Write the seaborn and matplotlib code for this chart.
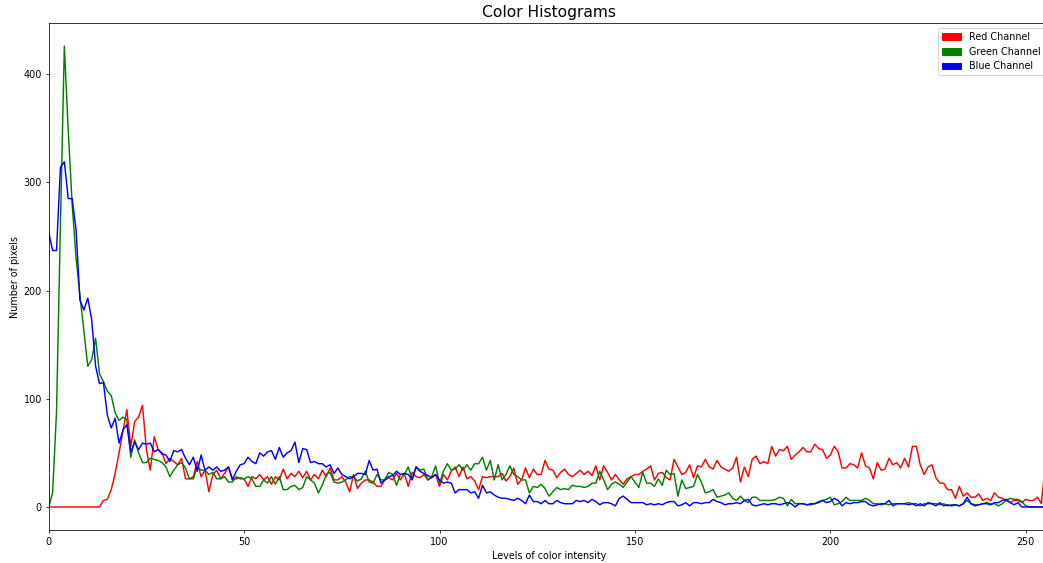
import numpy as np
import pandas as pd
import matplotlib
matplotlib.use("Agg")
import matplotlib.pyplot as plt
import matplotlib.patches as mpatches
import seaborn as sns

# Histogram counts per intensity level (0..255) for each colour channel
red_counts = [
    0, 0, 0, 0, 0, 0, 0, 0, 0, 0, 0, 0, 0, 0, 6, 7,
    16, 31, 50, 70, 90, 56, 79, 83, 94, 53, 34, 65, 53, 50, 40, 45,
    42, 39, 45, 26, 26, 28, 42, 28, 34, 14, 30, 34, 26, 31, 37, 26,
    26, 27, 26, 19, 28, 26, 30, 25, 28, 21, 28, 25, 35, 26, 31, 28,
    33, 27, 33, 25, 30, 26, 34, 28, 36, 25, 25, 28, 23, 14, 30, 17,
    22, 25, 25, 23, 19, 19, 25, 27, 25, 31, 25, 31, 19, 32, 28, 27,
    30, 25, 27, 30, 19, 30, 25, 33, 37, 28, 37, 26, 28, 24, 16, 28,
    27, 28, 28, 28, 31, 24, 28, 36, 21, 25, 36, 27, 35, 30, 30, 43,
    35, 34, 27, 32, 35, 30, 28, 31, 34, 30, 33, 29, 38, 25, 38, 32,
    25, 30, 25, 21, 26, 28, 30, 30, 33, 35, 38, 25, 31, 32, 27, 25,
    44, 37, 30, 32, 39, 27, 38, 37, 44, 37, 35, 43, 37, 35, 33, 36,
    46, 23, 37, 28, 44, 47, 40, 42, 40, 56, 47, 53, 52, 56, 44, 48,
    51, 55, 51, 51, 58, 54, 53, 45, 48, 56, 51, 36, 36, 40, 39, 36,
    50, 38, 36, 26, 41, 34, 35, 45, 39, 41, 36, 45, 37, 56, 56, 39,
    30, 37, 39, 27, 22, 22, 16, 16, 8, 19, 10, 13, 9, 9, 12, 6,
    8, 6, 13, 9, 8, 6, 4, 6, 6, 4, 7, 6, 6, 9, 3, 40,
]

green_counts = [
    0, 13, 88, 260, 426, 348, 280, 230, 195, 163, 130, 136, 156, 123, 116, 107,
    103, 87, 80, 83, 81, 46, 62, 50, 41, 41, 45, 44, 43, 41, 37, 28,
    34, 39, 41, 36, 26, 26, 37, 34, 34, 30, 32, 26, 26, 28, 23, 23,
    28, 26, 26, 28, 26, 19, 19, 25, 22, 28, 21, 28, 16, 16, 19, 20,
    16, 18, 28, 25, 22, 13, 20, 30, 32, 23, 22, 23, 25, 28, 28, 24,
    26, 33, 23, 22, 30, 25, 25, 32, 30, 20, 30, 30, 37, 26, 37, 34,
    35, 25, 28, 38, 22, 33, 40, 34, 35, 39, 34, 39, 34, 40, 40, 46,
    34, 43, 25, 39, 25, 30, 38, 30, 28, 25, 25, 13, 19, 18, 21, 17,
    10, 14, 18, 16, 17, 16, 20, 19, 19, 18, 19, 22, 22, 33, 25, 16,
    21, 23, 21, 18, 23, 28, 23, 18, 32, 22, 22, 19, 26, 20, 34, 30,
    31, 10, 25, 17, 18, 19, 30, 23, 13, 14, 16, 9, 10, 11, 13, 8,
    6, 10, 6, 4, 9, 9, 6, 6, 6, 6, 7, 9, 8, 1, 7, 3,
    3, 3, 2, 2, 3, 5, 6, 7, 9, 2, 3, 5, 9, 6, 6, 6,
    6, 8, 6, 3, 3, 2, 3, 2, 3, 3, 3, 3, 4, 3, 3, 1,
    3, 3, 3, 3, 2, 3, 1, 2, 2, 1, 3, 6, 3, 2, 2, 3,
    4, 3, 3, 1, 3, 6, 8, 7, 7, 5, 1, 0, 0, 0, 0, 0,
]

blue_counts = [
    254, 237, 237, 314, 319, 285, 285, 256, 191, 182, 193, 173, 130, 114, 115, 85,
    73, 82, 59, 71, 76, 51, 60, 53, 59, 58, 59, 51, 53, 49, 48, 42,
    52, 51, 53, 45, 39, 46, 33, 48, 34, 37, 34, 37, 33, 34, 37, 25,
    33, 39, 40, 46, 42, 40, 50, 47, 51, 52, 44, 55, 46, 50, 52, 60,
    41, 54, 53, 41, 42, 40, 40, 37, 39, 31, 36, 30, 28, 26, 28, 31,
    31, 30, 43, 34, 35, 22, 25, 28, 29, 33, 30, 31, 30, 25, 37, 33,
    31, 29, 27, 30, 25, 22, 23, 22, 13, 16, 16, 16, 13, 14, 8, 20,
    13, 14, 11, 9, 8, 8, 7, 6, 8, 6, 3, 11, 5, 5, 3, 6,
    3, 3, 6, 4, 3, 3, 3, 6, 5, 6, 4, 7, 5, 2, 4, 4,
    3, 1, 8, 10, 7, 4, 4, 4, 4, 2, 3, 2, 3, 2, 4, 5,
    5, 1, 2, 4, 1, 4, 4, 3, 4, 4, 7, 5, 4, 2, 3, 3,
    4, 3, 6, 7, 2, 1, 2, 3, 2, 3, 3, 2, 3, 4, 3, 0,
    3, 3, 2, 3, 3, 4, 6, 4, 5, 8, 6, 1, 4, 3, 4, 4,
    5, 5, 2, 1, 2, 3, 3, 6, 1, 3, 3, 3, 2, 3, 1, 3,
    1, 4, 3, 1, 4, 1, 2, 1, 2, 1, 3, 9, 3, 1, 2, 3,
    3, 2, 4, 4, 6, 7, 4, 2, 4, 0, 0, 0, 0, 0, 0, 0,
]

channel_names = ["Red Channel", "Green Channel", "Blue Channel"]
channel_colors = ["red", "green", "blue"]
levels = list(range(256))

frames = []
for name, counts in zip(channel_names, [red_counts, green_counts, blue_counts]):
    frames.append(pd.DataFrame({"level": levels, "count": counts, "channel": name}))
df = pd.concat(frames, ignore_index=True)

DPI = 69.5
fig = plt.figure(figsize=(1043 / DPI, 563 / DPI), dpi=DPI)
ax = fig.add_axes([48.7 / 1043, 1 - 530 / 563, 1000.5 / 1043, 507 / 563])

sns.lineplot(
    data=df, x="level", y="count", hue="channel",
    hue_order=channel_names,
    palette=dict(zip(channel_names, channel_colors)),
    linewidth=1.5, legend=False, ax=ax,
)

ax.set_xlim(0, 256)
ax.set_title("Color Histograms", fontsize=16)
ax.set_xlabel("Levels of color intensity")
ax.set_ylabel("Number of pixels")

handles = [mpatches.Patch(color=c, label=n) for n, c in zip(channel_names, channel_colors)]
ax.legend(handles=handles, loc="upper right")

fig.savefig("out.png", dpi=DPI)
